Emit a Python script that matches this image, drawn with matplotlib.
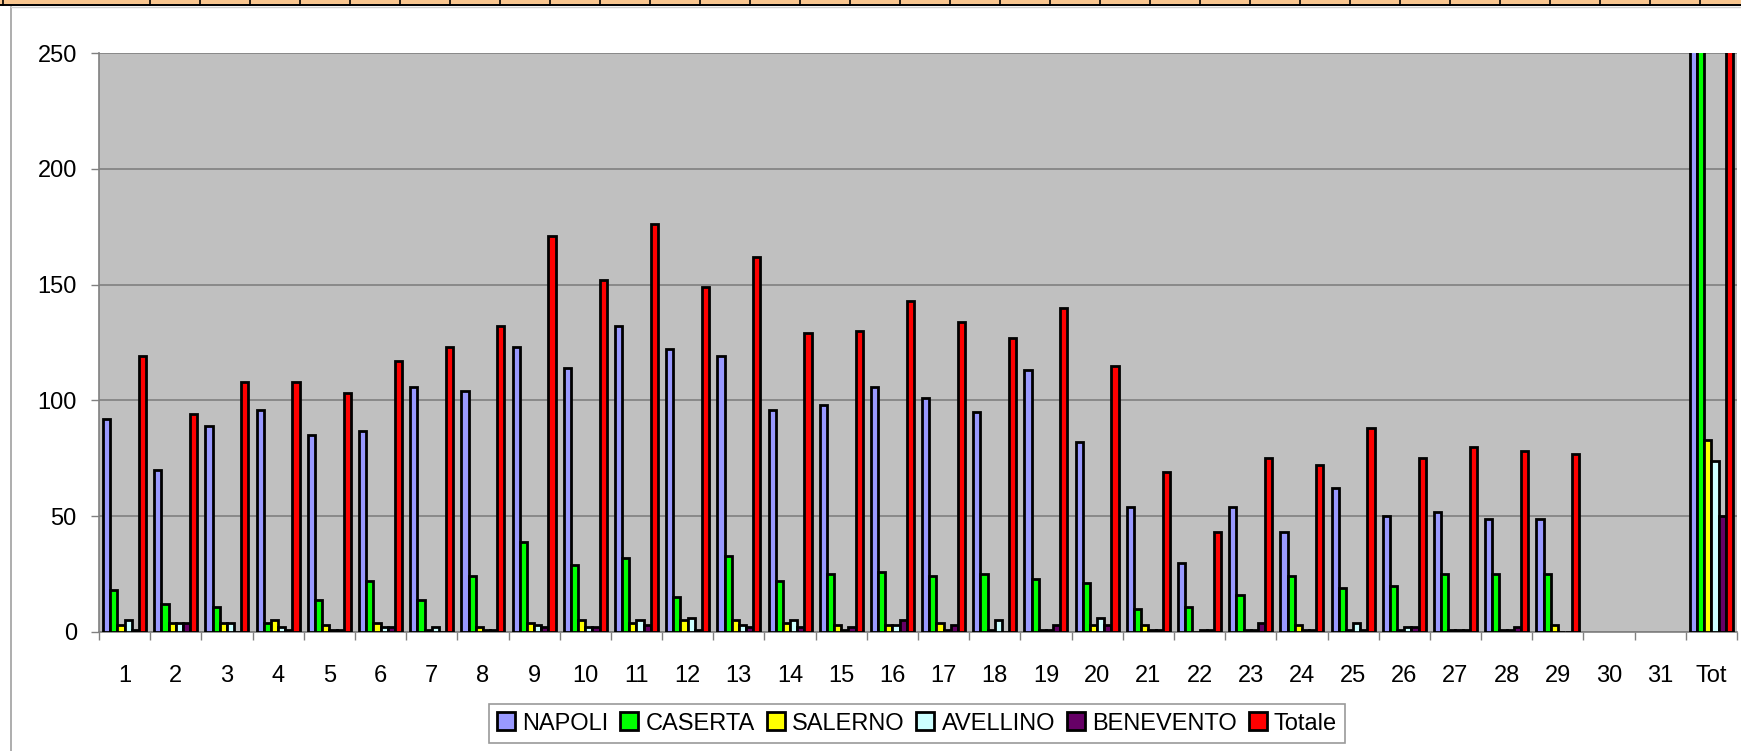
import numpy as np
import matplotlib.pyplot as plt
from matplotlib.patches import Rectangle
from matplotlib.lines import Line2D

plt.rcParams['font.family'] = ['Liberation Sans', 'DejaVu Sans']

days = [str(d) for d in range(1, 32)] + ['Tot']
nan = np.nan

napoli = [92, 70, 89, 96, 85, 87, 106, 104, 123, 114, 132, 122, 119, 96, 98, 106,
          101, 95, 113, 82, 54, 30, 54, 43, 62, 50, 52, 49, 49, nan, nan, 2473]
caserta = [18, 12, 11, 4, 14, 22, 14, 24, 39, 29, 32, 15, 33, 22, 25, 26,
           24, 25, 23, 21, 10, 11, 16, 24, 19, 20, 25, 25, 25, nan, nan, 608]
salerno = [3, 4, 4, 5, 3, 4, 1, 2, 4, 5, 4, 5, 5, 4, 3, 3,
           4, 1, 1, 3, 3, 0, 1, 3, 1, 1, 1, 1, 3, nan, nan, 83]
avellino = [5, 4, 4, 2, 1, 2, 2, 1, 3, 2, 5, 6, 3, 5, 1, 3,
            1, 5, 1, 6, 1, 1, 1, 1, 4, 2, 1, 1, 0, nan, nan, 74]
benevento = [1, 4, 0, 1, 1, 2, 0, 1, 2, 2, 3, 1, 2, 2, 2, 5,
             3, 0, 3, 3, 1, 1, 4, 1, 1, 2, 1, 2, 0, nan, nan, 50]
totale = [119, 94, 108, 108, 103, 117, 123, 132, 171, 152, 176, 149, 162, 129, 130, 143,
          134, 127, 140, 115, 69, 43, 75, 72, 88, 75, 80, 78, 77, nan, nan, 3289]

series = [napoli, caserta, salerno, avellino, benevento, totale]
labels = ['NAPOLI', 'CASERTA', 'SALERNO', 'AVELLINO', 'BENEVENTO', 'Totale']
colors = ['#9999FF', '#00FF00', '#FFFF00', '#CCFFFF', '#660066', '#FF0000']

W, H = 1741, 751
fig = plt.figure(figsize=(W / 100, H / 100), dpi=100)
ax = fig.add_axes([99 / W, 1 - 632 / H, (1737 - 99) / W, (632 - 53) / H])
ax.set_facecolor('#C0C0C0')

x = np.arange(len(days))
w = 0.14
for k, (vals, lab, col) in enumerate(zip(series, labels, colors)):
    ax.bar(x + (k - 2.5) * w, vals, w, color=col, edgecolor='black',
           linewidth=2.0, label=lab, zorder=3)

ax.set_xlim(-0.5, len(days) - 0.5)
ax.set_ylim(0, 250)
ax.set_yticks(range(0, 251, 50))
ax.yaxis.grid(True, color='#7a7a7a', linewidth=1.1, zorder=0)
ax.set_axisbelow(True)

ax.set_xticks(np.arange(len(days) + 1) - 0.5)
ax.set_xticklabels([])
ax.set_xticks(x, minor=True)
ax.set_xticklabels(days, minor=True)
ax.tick_params(axis='x', which='major', length=6, width=1, color='#808080', direction='out')
ax.tick_params(axis='x', which='minor', length=0, pad=24, labelsize=17)
ax.tick_params(axis='y', length=6, width=1, color='#808080', pad=10, labelsize=17)

for s in ['top', 'right']:
    ax.spines[s].set_visible(False)
for s in ['left', 'bottom']:
    ax.spines[s].set_color('#808080')
    ax.spines[s].set_linewidth(1.2)

leg = fig.legend(loc='center', bbox_to_anchor=(917 / W, 1 - 723.5 / H), ncol=6,
                 fontsize=17, handlelength=0.77, handleheight=0.77,
                 handletextpad=0.3, columnspacing=0.5, borderpad=0.35,
                 fancybox=False, frameon=True)
leg.get_frame().set_edgecolor('#808080')
leg.get_frame().set_linewidth(1.2)
for p in leg.get_patches():
    p.set_linewidth(2.0)

# chart area border and spreadsheet strip at the top
fig.add_artist(Line2D([11 / W, 11 / W], [0, 1 - 7 / H], color='#a0a0a0', linewidth=1.2))
fig.add_artist(Line2D([11 / W, 1], [1 - 7 / H, 1 - 7 / H], color='#d0d0d0', linewidth=1.0))
fig.add_artist(Rectangle((0, 1 - 4 / H), 1, 4 / H, facecolor='#F9C68F',
                         edgecolor='none', transform=fig.transFigure))
fig.add_artist(Line2D([0, 1], [1 - 4.5 / H, 1 - 4.5 / H], color='black', linewidth=1.4))
for px in [3] + list(np.arange(150, W, 50)):
    fig.add_artist(Line2D([px / W, px / W], [1 - 4.5 / H, 1], color='black', linewidth=1.2))

fig.savefig('out.png', dpi=100)
